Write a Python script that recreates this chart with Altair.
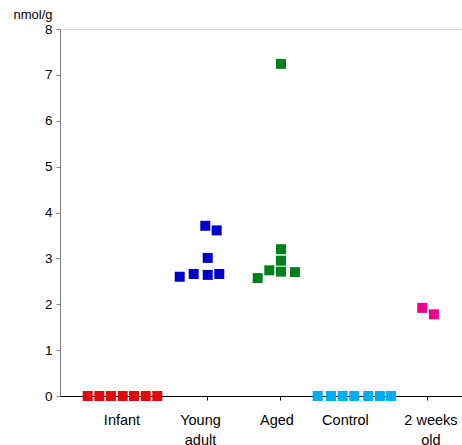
import altair as alt
import pandas as pd

groups = ["Infant", "Young adult", "Aged", "Control", "2 weeks old"]
colors = ["#E10A0A", "#0000CC", "#008018", "#00AEEF", "#EC008C"]

infant_x = [0.377, 0.535, 0.694, 0.853, 1.007, 1.166, 1.324]
infant_y = [0, 0, 0, 0, 0, 0, 0]
young_x = [1.629, 1.819, 2.010, 2.167, 2.010, 1.977, 2.132]
young_y = [2.60, 2.66, 2.64, 2.66, 3.01, 3.71, 3.61]
aged_x = [2.690, 2.848, 3.007, 3.197, 3.007, 3.007, 3.007]
aged_y = [2.57, 2.74, 2.71, 2.70, 2.95, 3.20, 7.24]
control_x = [3.506, 3.687, 3.846, 4.004, 4.194, 4.354, 4.503]
control_y = [0, 0, 0, 0, 0, 0, 0]
weeks_x = [4.929, 5.088]
weeks_y = [1.92, 1.78]

rows = []
for g, xs, ys in zip(groups,
                     [infant_x, young_x, aged_x, control_x, weeks_x],
                     [infant_y, young_y, aged_y, control_y, weeks_y]):
    for xv, yv in zip(xs, ys):
        rows.append({"group": g, "x": xv, "y": yv})
df = pd.DataFrame(rows)

font = "Liberation Sans"

label_expr = ("datum.value == 1 ? 'Infant' : datum.value == 2 ? ['Young', 'adult'] : "
              "datum.value == 3 ? 'Aged' : datum.value == 4 ? 'Control' : "
              "datum.value == 5 ? ['2 weeks', 'old'] : ''")

label_shift = {
    "condition": [
        {"test": "datum.value == 1", "value": -12},
        {"test": "datum.value == 2", "value": -7},
        {"test": "datum.value == 3", "value": -4},
        {"test": "datum.value == 4", "value": -9},
    ],
    "value": 3,
}

chart = alt.Chart(df).mark_square(size=100, opacity=1, filled=True).encode(
    x=alt.X("x:Q", scale=alt.Scale(domain=[0, 5.47], nice=False, zero=False),
            axis=alt.Axis(values=[1, 2, 3, 4, 5], labelExpr=label_expr, title=None,
                          grid=False, domainColor="black", tickColor="black",
                          tickSize=4, labelPadding=13, labelFontSize=14.5,
                          labelFont=font, labelColor="black", labelLineHeight=20,
                          labelFlush=False, labelOffset=label_shift)),
    y=alt.Y("y:Q", scale=alt.Scale(domain=[0, 8], nice=False),
            axis=alt.Axis(values=list(range(9)), grid=False, title="nmol/g",
                          titleAngle=0, titleAlign="right", titleBaseline="middle",
                          titleX=-8, titleY=-15, titleFont=font, titleFontSize=13,
                          titleFontWeight="normal", titleColor="black",
                          domainColor="#808080", tickColor="#808080", tickSize=4,
                          labelFont=font, labelFontSize=13.5, labelColor="black",
                          labelPadding=4)),
    color=alt.Color("group:N", scale=alt.Scale(domain=groups, range=colors), legend=None),
).properties(
    width=402, height=367,
    autosize=alt.AutoSizeParams(type="none"),
    padding={"left": 60, "top": 29, "right": 0, "bottom": 49},
).configure_view(stroke=None).configure(background="white")

chart.save("out.html", embed_options={"renderer": "svg", "actions": False})
